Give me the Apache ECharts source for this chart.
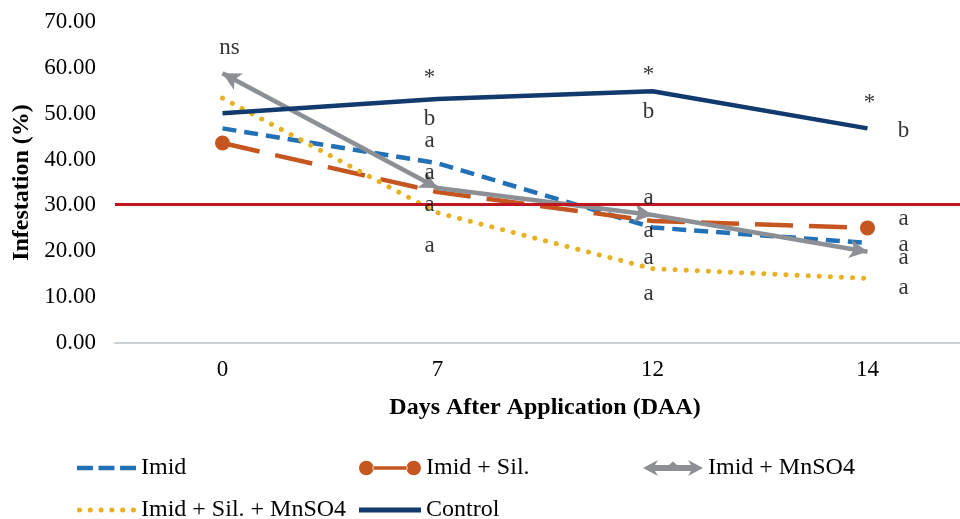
<!DOCTYPE html>
<html>
<head>
<meta charset="utf-8">
<script src="https://cdn.jsdelivr.net/npm/echarts@6/dist/echarts.min.js"></script>
<style>html,body{margin:0;padding:0;background:#fff;}#c{width:960px;height:519px;}</style>
</head>
<body>
<div id="c"></div>
<script>
// ---- data ----
const days = ['0', '7', '12', '14'];
const imid = [46.8, 39.2, 25.2, 21.8];
const imidSil = [43.6, 32.9, 26.6, 25.1];
const imidMn = [58.8, 33.8, 27.9, 19.9];
const imidSilMn = [53.4, 28.4, 16.2, 14.1];
const control = [50.1, 53.2, 54.9, 46.8];
const threshold = 30.3;
const yTicks = [0, 10, 20, 30, 40, 50, 60, 70];
// significance annotations
const annoDay = ['0', '7', '7', '7', '7', '7', '7', '12', '12', '12', '12', '12', '12', '14', '14', '14', '14', '14', '14'];
const annoText = ['ns', '*', 'b', 'a', 'a', 'a', 'a', '*', 'b', 'a', 'a', 'a', 'a', '*', 'b', 'a', 'a', 'a', 'a'];
const annoY = [64.5, 58.4, 49.0, 44.2, 37.3, 30.3, 21.4, 59.0, 50.5, 31.8, 24.6, 18.7, 10.9, 52.9, 46.4, 27.2, 21.6, 18.7, 12.2];

const FONT = 'Liberation Serif';
const C = { imid: '#2270b6', sil: '#c5561f', mn: '#8c8f93', silmn: '#e8b023', ctrl: '#123a6e', red: '#c0141e' };

const chart = echarts.init(document.getElementById('c'), null, { renderer: 'canvas' });

function dxFor(day, t) {
  if (day === '0') return 7;
  if (day === '7') return -8;
  if (day === '12') return -4;
  return t === '*' ? 2 : 36;
}
function dyFor(t) {
  if (t === '*') return 3;
  return 1;
}

const annoData = annoDay.map((d, i) => ({
  value: [d, annoY[i]],
  label: { formatter: annoText[i], offset: [dxFor(d, annoText[i]), dyFor(annoText[i])] }
}));

// legend icons
const iconDash = 'path://M0,5L17,5L17,10L0,10Z M23,5L40,5L40,10L23,10Z M46,5L63,5L63,10L46,10Z';
const iconDots = (function () {
  let p = 'path://';
  for (let k = 0; k < 6; k++) {
    const cx = 2.7 + k * 11.5;
    p += 'M' + (cx - 2.7) + ',7.5a2.7,2.7 0 1,0 5.4,0a2.7,2.7 0 1,0 -5.4,0Z ';
  }
  return p;
})();
const iconSolid = 'path://M0,5L63,5L63,10L0,10Z';
const iconSil = 'path://M0,7.5a7.5,7.5 0 1,0 15,0a7.5,7.5 0 1,0 -15,0Z M14,5.6L50,5.6L50,9.4L14,9.4Z M49,7.5a7.5,7.5 0 1,0 15,0a7.5,7.5 0 1,0 -15,0Z';
const iconDblArrow = 'path://M0,8L15,0L12,5L26,5L30,1.5L34,5L48,5L45,0L60,8L45,16L48,11L12,11L15,16Z';

const legendText = { fontFamily: FONT, fontSize: 24, color: '#000', lineHeight: 24 };

function buildOption(rot) {
  return {
    animation: false,
    backgroundColor: '#fff',
    grid: { left: 115, top: 22, width: 860, height: 321, containLabel: false, outerBoundsMode: 'none' },
    xAxis: {
      type: 'category',
      data: days,
      boundaryGap: true,
      name: 'Days After Application (DAA)',
      nameLocation: 'middle',
      nameGap: 53,
      nameTextStyle: { fontFamily: FONT, fontWeight: 'bold', fontSize: 24, color: '#000' },
      axisLine: { lineStyle: { color: '#c9d0d6', width: 2 } },
      axisTick: { show: false },
      axisLabel: { fontFamily: FONT, fontSize: 23, color: '#000', margin: 15 }
    },
    yAxis: {
      type: 'value',
      min: yTicks[0], max: yTicks[yTicks.length - 1], interval: 10,
      name: 'Infestation (%)',
      nameLocation: 'middle',
      nameGap: 78,
      nameTextStyle: { fontFamily: FONT, fontWeight: 'bold', fontSize: 24, color: '#000' },
      axisLine: { show: false },
      axisTick: { show: false },
      splitLine: { show: false },
      axisLabel: { fontFamily: FONT, fontSize: 23, color: '#000', margin: 19, formatter: v => v.toFixed(2) }
    },
    legend: [
      {
        orient: 'vertical', left: 72, top: 451, height: 90, itemWidth: 59, itemHeight: 16, itemGap: 18,
        textStyle: legendText,
        data: [{ name: 'Imid', icon: iconDash }, { name: 'Imid + Sil. + MnSO4', icon: iconDots }]
      },
      {
        orient: 'vertical', left: 354, top: 451, height: 90, itemWidth: 62, itemHeight: 16, itemGap: 18,
        textStyle: legendText,
        data: [{ name: 'Imid + Sil.', icon: iconSil }, { name: 'Control', icon: iconSolid }]
      },
      {
        orient: 'vertical', left: 638, top: 451, height: 90, itemWidth: 60, itemHeight: 16, itemGap: 18,
        textStyle: legendText,
        data: [{ name: 'Imid + MnSO4', icon: iconDblArrow }]
      }
    ],
    series: [
      {
        name: 'Imid', type: 'line', data: imid, symbol: 'none', color: C.imid,
        lineStyle: { color: C.imid, width: 4.5, type: [14, 8] }
      },
      {
        name: 'Imid + Sil.', type: 'line', color: C.sil,
        data: imidSil.map((v, i) => ({ value: v, symbolSize: (i === 0 || i === imidSil.length - 1) ? 15 : 0 })),
        symbol: 'circle', showSymbol: true, itemStyle: { color: C.sil },
        lineStyle: { color: C.sil, width: 4.5, type: [38, 16] }
      },
      {
        name: 'Imid + MnSO4', type: 'line', color: C.mn,
        data: imidMn.map((v, i) => ({ value: v, symbolRotate: rot ? rot[i] : 0 })),
        symbol: 'arrow', symbolSize: [14, 18], showSymbol: true, itemStyle: { color: C.mn },
        lineStyle: { color: C.mn, width: 4.5 }
      },
      {
        name: 'Imid + Sil. + MnSO4', type: 'line', data: imidSilMn, symbol: 'none', color: C.silmn,
        lineStyle: { color: C.silmn, width: 5, type: [0.1, 11], cap: 'round' }
      },
      {
        name: 'Control', type: 'line', data: control, symbol: 'none', color: C.ctrl,
        lineStyle: { color: C.ctrl, width: 4.5 },
        markLine: {
          silent: true, symbol: 'none', label: { show: false },
          lineStyle: { color: C.red, width: 3, type: 'solid' },
          data: [{ yAxis: threshold }]
        }
      },
      {
        name: 'annotations', type: 'scatter', data: annoData, symbolSize: 0, z: 10,
        label: {
          show: true, position: 'inside', fontFamily: FONT, fontSize: 23, color: '#000',
          align: 'center', verticalAlign: 'middle'
        }
      }
    ]
  };
}

chart.setOption(buildOption(null));
// compute arrow orientations along the line direction (screen space)
const pts = imidMn.map((v, i) => chart.convertToPixel({ seriesIndex: 2 }, [i, v]));
const rot = pts.map((p, i) => {
  let dx, dy;
  if (i === 0) { dx = pts[0][0] - pts[1][0]; dy = pts[0][1] - pts[1][1]; }
  else { dx = pts[i][0] - pts[i - 1][0]; dy = pts[i][1] - pts[i - 1][1]; }
  return Math.atan2(-dx, -dy) * 180 / Math.PI;
});
chart.setOption(buildOption(rot));
</script>
</body>
</html>
